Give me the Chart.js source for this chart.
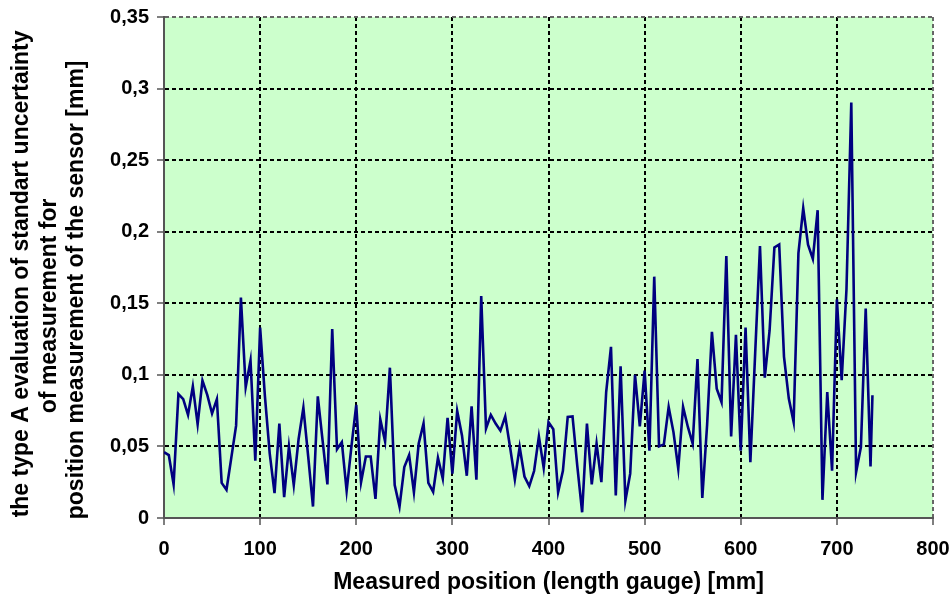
<!DOCTYPE html>
<html>
<head>
<meta charset="utf-8">
<script src="https://cdn.jsdelivr.net/npm/chart.js@4"></script>
<style>
  html, body { margin: 0; padding: 0; background: #fff; }
  #wrap { width: 952px; height: 602px; }
</style>
</head>
<body>
<div id="wrap"><canvas id="myChart" width="952" height="602"></canvas></div>
<script>
// measured positions [mm] and type A standard uncertainty [mm]
const positions = [
  0, 5, 10, 15, 20, 25, 30, 35, 40, 45, 50, 55, 60, 65, 70, 75, 80, 85, 90, 95,
  100, 105, 110, 115, 120, 125, 130, 135, 140, 145, 150, 155, 160, 165, 170, 175, 180, 185, 190, 195,
  200, 205, 210, 215, 220, 225, 230, 235, 240, 245, 250, 255, 260, 265, 270, 275, 280, 285, 290, 295,
  300, 305, 310, 315, 320, 325, 330, 335, 340, 345, 350, 355, 360, 365, 370, 375, 380, 385, 390, 395,
  400, 405, 410, 415, 420, 425, 430, 435, 440, 445, 450, 455, 460, 465, 470, 475, 480, 485, 490, 495,
  500, 505, 510, 515, 520, 525, 530, 535, 540, 545, 550, 555, 560, 565, 570, 575, 580, 585, 590, 595,
  600, 605, 610, 615, 620, 625, 630, 635, 640, 645, 650, 655, 660, 665, 670, 675, 680, 685, 690, 695,
  700, 705, 710, 715, 720, 725, 730, 735, 737
];

const uncertainty = [
  0.046, 0.044, 0.0235, 0.0865, 0.083, 0.072, 0.092, 0.0655, 0.096, 0.086, 0.073, 0.083, 0.0245, 0.0197, 0.042, 0.0645, 0.154, 0.0915, 0.11, 0.040,
  0.133, 0.085, 0.045, 0.0174, 0.066, 0.0146, 0.050, 0.023, 0.055, 0.077, 0.043, 0.008, 0.085, 0.054, 0.0235, 0.132, 0.048, 0.053, 0.019, 0.05,
  0.079, 0.025, 0.043, 0.043, 0.0134, 0.069, 0.0535, 0.105, 0.023, 0.008, 0.0356, 0.044, 0.018, 0.052, 0.066, 0.0246, 0.0183, 0.042, 0.0276, 0.070,
  0.031, 0.0748, 0.0577, 0.0295, 0.078, 0.0267, 0.155, 0.0624, 0.072, 0.066, 0.061, 0.071, 0.0496, 0.027, 0.0496, 0.029, 0.0223, 0.0328, 0.057, 0.035,
  0.067, 0.062, 0.018, 0.033, 0.0706, 0.071, 0.036, 0.004, 0.066, 0.0235, 0.052, 0.025, 0.088, 0.1196, 0.0157, 0.106, 0.0122, 0.031, 0.100, 0.064,
  0.103, 0.047, 0.1686, 0.050, 0.0514, 0.0776, 0.06, 0.0344, 0.0776, 0.0636, 0.052, 0.111, 0.014, 0.065, 0.130, 0.0904, 0.081, 0.183, 0.057, 0.128,
  0.047, 0.133, 0.039, 0.115, 0.19, 0.098, 0.131, 0.189, 0.191, 0.1126, 0.0834, 0.067, 0.185, 0.2164, 0.191, 0.181, 0.215, 0.0127, 0.088, 0.033,
  0.1527, 0.0962, 0.16, 0.2903, 0.032, 0.0496, 0.1464, 0.036, 0.0857
];

const xTickLabels = ['0', '100', '200', '300', '400', '500', '600', '700', '800'];
const yTickLabels = ['0', '0,05', '0,1', '0,15', '0,2', '0,25', '0,3', '0,35'];

const xTitle = 'Measured position (length gauge) [mm]';
// trailing spaces keep the lines where the original text box put them
const yTitle = [
  'the type A evaluation of standart uncertainty  ',
  'of measurement for            ',
  'position measurement of the sensor [mm]       '
];

const ctx = document.getElementById('myChart');
const FONT = '"Liberation Sans", Arial, sans-serif';

// light green plot area
const plotBg = {
  id: 'plotBg',
  beforeDraw(chart) {
    const a = chart.chartArea;
    const c = chart.ctx;
    c.save();
    c.fillStyle = '#CCFFCC';
    c.fillRect(a.left, a.top, a.right - a.left, a.bottom - a.top);
    c.restore();
  }
};

const points = positions.map((p, i) => ({ x: p, y: uncertainty[i] }));

const edgeColor = (c, last) => (c.index === 0 || c.index === last) ? '#666' : '#000';

new Chart(ctx, {
  type: 'line',
  data: {
    datasets: [{
      data: points,
      borderColor: '#000080',
      borderWidth: 2.6,
      pointRadius: 0,
      tension: 0,
      fill: false
    }]
  },
  options: {
    responsive: false,
    animation: false,
    events: [],
    layout: { padding: { top: 17, right: 19, bottom: 0, left: 0 } },
    plugins: { legend: { display: false }, tooltip: { enabled: false } },
    scales: {
      x: {
        type: 'linear',
        min: 0, max: 800,
        afterFit(s) { s.height = 84; s.paddingRight = 0; s.paddingLeft = 0; },
        ticks: {
          stepSize: 100,
          color: '#000',
          padding: 12,
          maxRotation: 0,
          font: { family: FONT, size: 20, weight: 'bold' },
          callback: (v, i) => xTickLabels[i]
        },
        grid: {
          color: c => edgeColor(c, 8),
          lineWidth: 2,
          tickColor: '#555',
          tickWidth: 1.5,
          tickLength: 7
        },
        border: { color: '#555', width: 2, dash: [4, 3] },
        title: {
          display: true,
          text: xTitle,
          color: '#000',
          font: { family: FONT, size: 23, weight: 'bold' },
          padding: { top: 0, bottom: 6 }
        }
      },
      y: {
        min: 0, max: 0.35,
        afterFit(s) { s.width = 164; s.paddingTop = 0; s.paddingBottom = 0; },
        ticks: {
          stepSize: 0.05,
          color: '#000',
          padding: 8,
          font: { family: FONT, size: 20, weight: 'bold' },
          callback: (v, i) => yTickLabels[i]
        },
        grid: {
          color: c => edgeColor(c, 7),
          lineWidth: 2,
          tickColor: '#555',
          tickWidth: 1.5,
          tickLength: 7
        },
        border: { color: '#555', width: 2, dash: [4, 3] },
        title: {
          display: true,
          text: yTitle,
          color: '#000',
          font: { family: FONT, size: 23, weight: 'bold', lineHeight: 1.2 },
          padding: { top: 8, bottom: 0 }
        }
      }
    }
  },
  plugins: [plotBg]
});
</script>
</body>
</html>
